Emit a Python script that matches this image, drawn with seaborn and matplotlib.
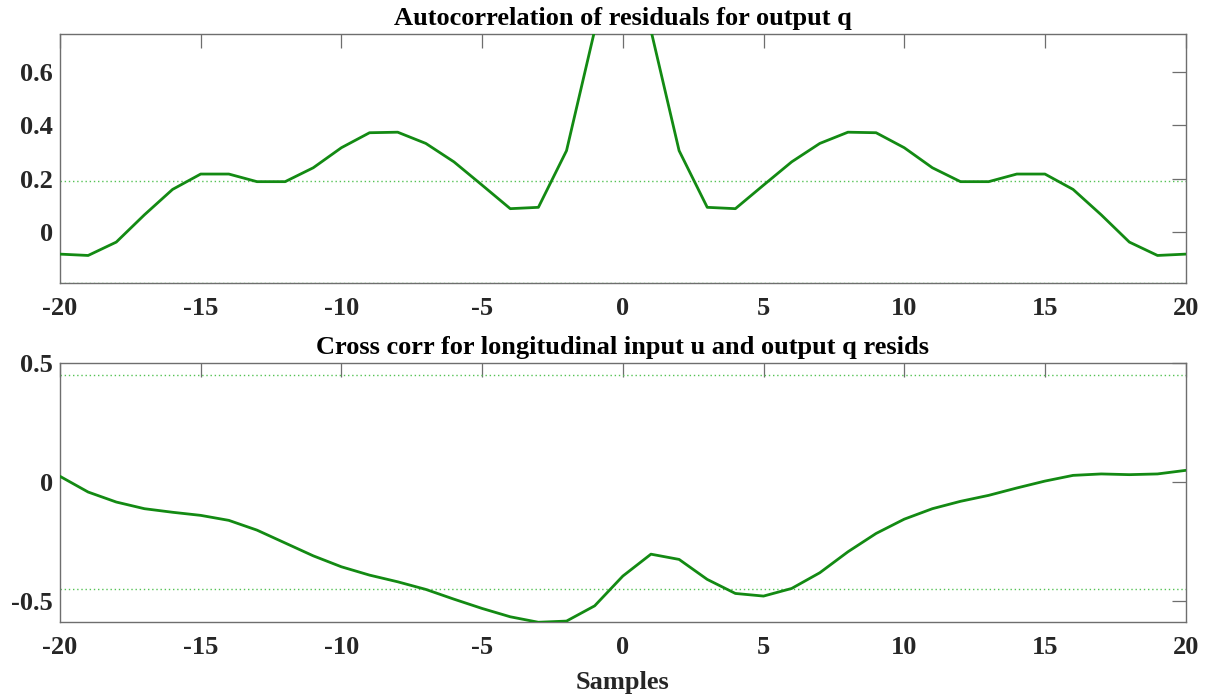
import numpy as np
import pandas as pd
import matplotlib
matplotlib.use("Agg")
import matplotlib.pyplot as plt
import seaborn as sns

# Lags shared by both panels
lags = list(range(-20, 21))

# Autocorrelation of output-q residuals (symmetric about lag 0)
acf_half = [1.0, 0.755, 0.305, 0.093, 0.088, 0.176, 0.263, 0.332, 0.374, 0.372,
            0.316, 0.241, 0.189, 0.189, 0.2175, 0.2175, 0.160, 0.065, -0.037,
            -0.087, -0.082]
acf_vals = acf_half[:0:-1] + acf_half

# Cross correlation between input u and output-q residuals
xcorr_vals = [0.024, -0.042, -0.084, -0.112, -0.127, -0.140, -0.161, -0.202,
              -0.256, -0.310, -0.356, -0.391, -0.419, -0.451, -0.492, -0.531,
              -0.566, -0.589, -0.584, -0.520, -0.395, -0.303, -0.325, -0.409,
              -0.468, -0.479, -0.447, -0.381, -0.293, -0.216, -0.156, -0.112,
              -0.081, -0.056, -0.025, 0.004, 0.028, 0.034, 0.031, 0.034, 0.049]

# 99% confidence bounds
acf_conf = 0.19
xcorr_conf = 0.448

titles = ["Autocorrelation of residuals for output q",
          "Cross corr for longitudinal input u and output q resids"]
xlabel = "Samples"
x_ticks = [-20, -15, -10, -5, 0, 5, 10, 15, 20]
acf_yticks = [0, 0.2, 0.4, 0.6]
acf_yticklabels = ["0", "0.2", "0.4", "0.6"]
xc_yticks = [-0.5, 0, 0.5]
xc_yticklabels = ["-0.5", "0", "0.5"]

sns.set_theme(style="white")
plt.rcParams["font.family"] = ["Liberation Serif", "DejaVu Serif"]
plt.rcParams["font.weight"] = "bold"

line_color = "#138a13"
conf_color = "#55c255"
edge_color = "#6e6e6e"
text_color = "#262626"

fig = plt.figure(figsize=(12.07, 6.95), dpi=100)
ax1 = fig.add_axes([0.0497, 0.5928, 0.9326, 0.3578])
ax2 = fig.add_axes([0.0497, 0.1050, 0.9326, 0.3727])

acf_df = pd.DataFrame({"lag": lags, "value": acf_vals})
xc_df = pd.DataFrame({"lag": lags, "value": xcorr_vals})

panels = [
    (ax1, acf_df, acf_conf, (-0.19, 0.74), acf_yticks, acf_yticklabels, titles[0]),
    (ax2, xc_df, xcorr_conf, (-0.588, 0.5), xc_yticks, xc_yticklabels, titles[1]),
]

for ax, df, conf, ylim, yt, ytl, title in panels:
    for c in (conf, -conf):
        ax.axhline(c, color=conf_color, linestyle=(0, (1, 2)), linewidth=1.0, zorder=1)
    sns.lineplot(data=df, x="lag", y="value", ax=ax, color=line_color,
                 linewidth=2.0, zorder=3)
    ax.set_xlim(-20, 20)
    ax.set_ylim(*ylim)
    ax.set_xticks(x_ticks)
    ax.set_xticklabels([str(t) for t in x_ticks])
    ax.set_yticks(yt)
    ax.set_yticklabels(ytl)
    ax.set_xlabel("")
    ax.set_ylabel("")
    ax.set_title(title, fontsize=19, fontweight="bold", color="black", pad=6.7)
    ax.tick_params(axis="both", which="major", direction="in", length=10,
                   width=0.9, color=edge_color, labelsize=19,
                   labelcolor=text_color, top=True, right=True)
    ax.tick_params(axis="x", pad=10)
    ax.tick_params(axis="y", pad=5)
    for lab in ax.get_xticklabels() + ax.get_yticklabels():
        lab.set_fontweight("bold")
    for sp in ax.spines.values():
        sp.set_color(edge_color)
        sp.set_linewidth(1.0)

ax2.set_xlabel(xlabel, fontsize=19, fontweight="bold", color=text_color, labelpad=9)

fig.savefig("out.png", dpi=100, facecolor="white")
